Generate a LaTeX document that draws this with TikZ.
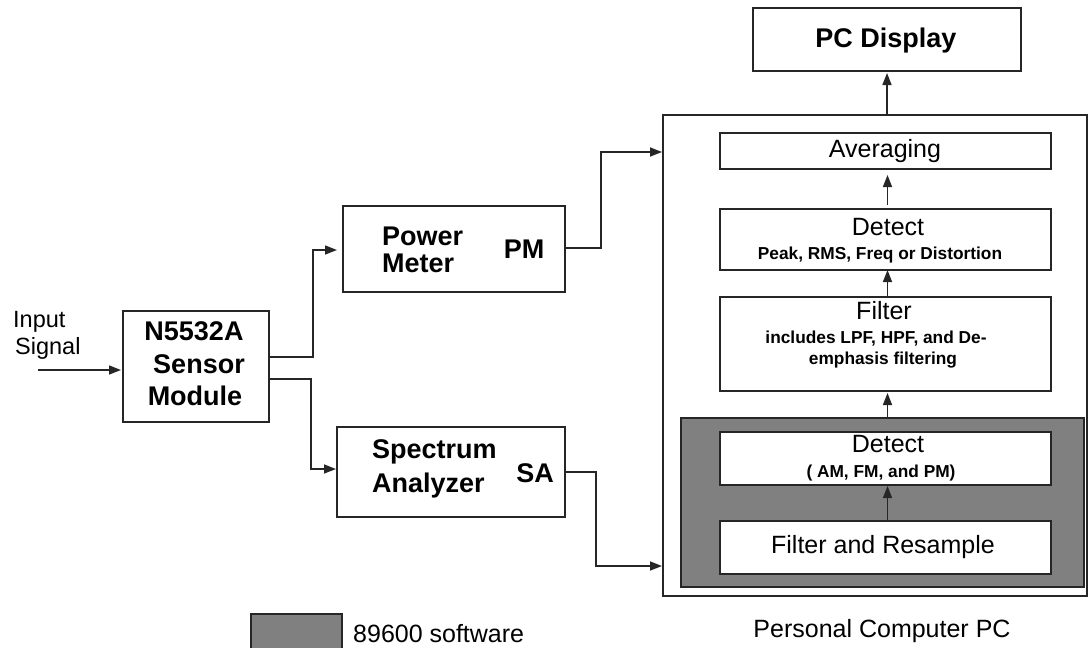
\documentclass[tikz,border=0pt]{standalone}
\usepackage{fontspec}
\setmainfont{Liberation Sans}
\usetikzlibrary{arrows.meta}
\begin{document}
\begin{tikzpicture}[x=1pt,y=-1pt,
  box/.style={draw=black!85, line width=1.8pt, fill=white, inner sep=0pt, outer sep=0pt, anchor=north west},
  graybox/.style={box, fill=black!50},
  conn/.style={draw=black!85, line width=1.6pt, -{Triangle[length=12pt,width=9pt]}},
  bt/.style={font=\fontsize{27}{32}\selectfont\bfseries, inner sep=0pt},
  rt/.style={font=\fontsize{25}{30}\selectfont, inner sep=0pt},
  st/.style={font=\fontsize{17.3}{21}\selectfont\bfseries, inner sep=0pt},
  it/.style={font=\fontsize{23.5}{28}\selectfont, inner sep=0pt}]
\useasboundingbox (0,0) rectangle (1088,648);
% boxes
\node[box, minimum width=146pt, minimum height=111pt] (sens) at (123,311) {};
\node[box, minimum width=222pt, minimum height=86pt] (pm) at (343,206) {};
\node[box, minimum width=228pt, minimum height=90pt] (sa) at (337,427) {};
\node[box, minimum width=424pt, minimum height=481pt] (pc) at (663,115) {};
\node[box, minimum width=268pt, minimum height=63pt] (disp) at (753,8) {};
\node[box, minimum width=331pt, minimum height=36pt] (avg) at (720,133) {};
\node[box, minimum width=331pt, minimum height=61pt] (det1) at (720,209) {};
\node[box, minimum width=331pt, minimum height=94pt] (filt) at (720,297) {};
\node[graybox, minimum width=403pt, minimum height=169pt] (sw) at (681,418) {};
\node[box, minimum width=331pt, minimum height=53pt] (det2) at (720,432) {};
\node[box, minimum width=331pt, minimum height=53pt] (fr) at (720,521) {};
\node[graybox, minimum width=91pt, minimum height=36pt] (leg) at (251,614) {};
% texts
\node[it, anchor=base west] (in1) at (13,327) {Input};
\node[it, anchor=base west] (in2) at (15,354) {Signal};
\node[bt, anchor=base] (s1) at (194,340) {N5532A};
\node[bt, anchor=base] (s2) at (199,373) {Sensor};
\node[bt, anchor=base] (s3) at (195,405) {Module};
\node[bt, anchor=base west] (p1) at (382,245) {Power};
\node[bt, anchor=base west] (p2) at (382,272) {Meter};
\node[bt, anchor=base] (p3) at (524,258) {PM};
\node[bt, anchor=base west] (a1) at (372,458) {Spectrum};
\node[bt, anchor=base west] (a2) at (372,492) {Analyzer};
\node[bt, anchor=base] (a3) at (535,482) {SA};
\node[bt, anchor=base] (d0) at (886,47) {PC Display};
\node[rt, anchor=base] (v0) at (885,157) {Averaging};
\node[rt, anchor=base] (d1) at (888,235) {Detect};
\node[st, anchor=base] (d1s) at (880,259) {Peak, RMS, Freq or Distortion};
\node[rt, anchor=base] (f1) at (884,319) {Filter};
\node[st, anchor=base] (f2) at (876,343) {includes LPF, HPF, and De-};
\node[st, anchor=base] (f3) at (883,364) {emphasis filtering};
\node[rt, anchor=base] (d2) at (888,452) {Detect};
\node[st, anchor=base] (d2s) at (881,477) {( AM, FM, and PM)};
\node[rt, anchor=base] (r1) at (883,553) {Filter and Resample};
\node[rt, anchor=base] (pcl) at (882,637) {Personal Computer PC};
\node[rt, anchor=base west] (legt) at (353,642) {89600 software};
% connectors
\coordinate (inp) at (38,370);
\draw[conn, shorten >=2pt] (inp) -- (inp -| sens.west);
\draw[conn, shorten >=6pt] (sens.east |- 0,357) -| (313,250) -- (pm.west |- 0,250);
\draw[conn, shorten >=1pt] (sens.east |- 0,379) -| (311,469) -- (sa.west |- 0,469);
\draw[conn, shorten >=1pt] (pm.east |- 0,248) -| (601,152) -- (pc.west |- 0,152);
\draw[conn, shorten >=1pt] (sa.east |- 0,472) -| (596,566) -- (pc.west |- 0,566);
\draw[conn, shorten >=2pt] (disp.south |- pc.north) -- (disp.south);
\draw[conn, shorten <=4pt, shorten >=6pt] ([xshift=2pt]det1.north) -- ([xshift=2pt]avg.south);
\draw[conn] ([xshift=2pt]filt.north) -- ([xshift=2pt]det1.south);
\draw[conn, shorten >=2pt] ([xshift=2pt]filt.south |- sw.north) -- ([xshift=2pt]filt.south);
\draw[conn, shorten >=1pt] ([xshift=2pt]fr.north) -- ([xshift=2pt]det2.south);
\end{tikzpicture}
\end{document}
